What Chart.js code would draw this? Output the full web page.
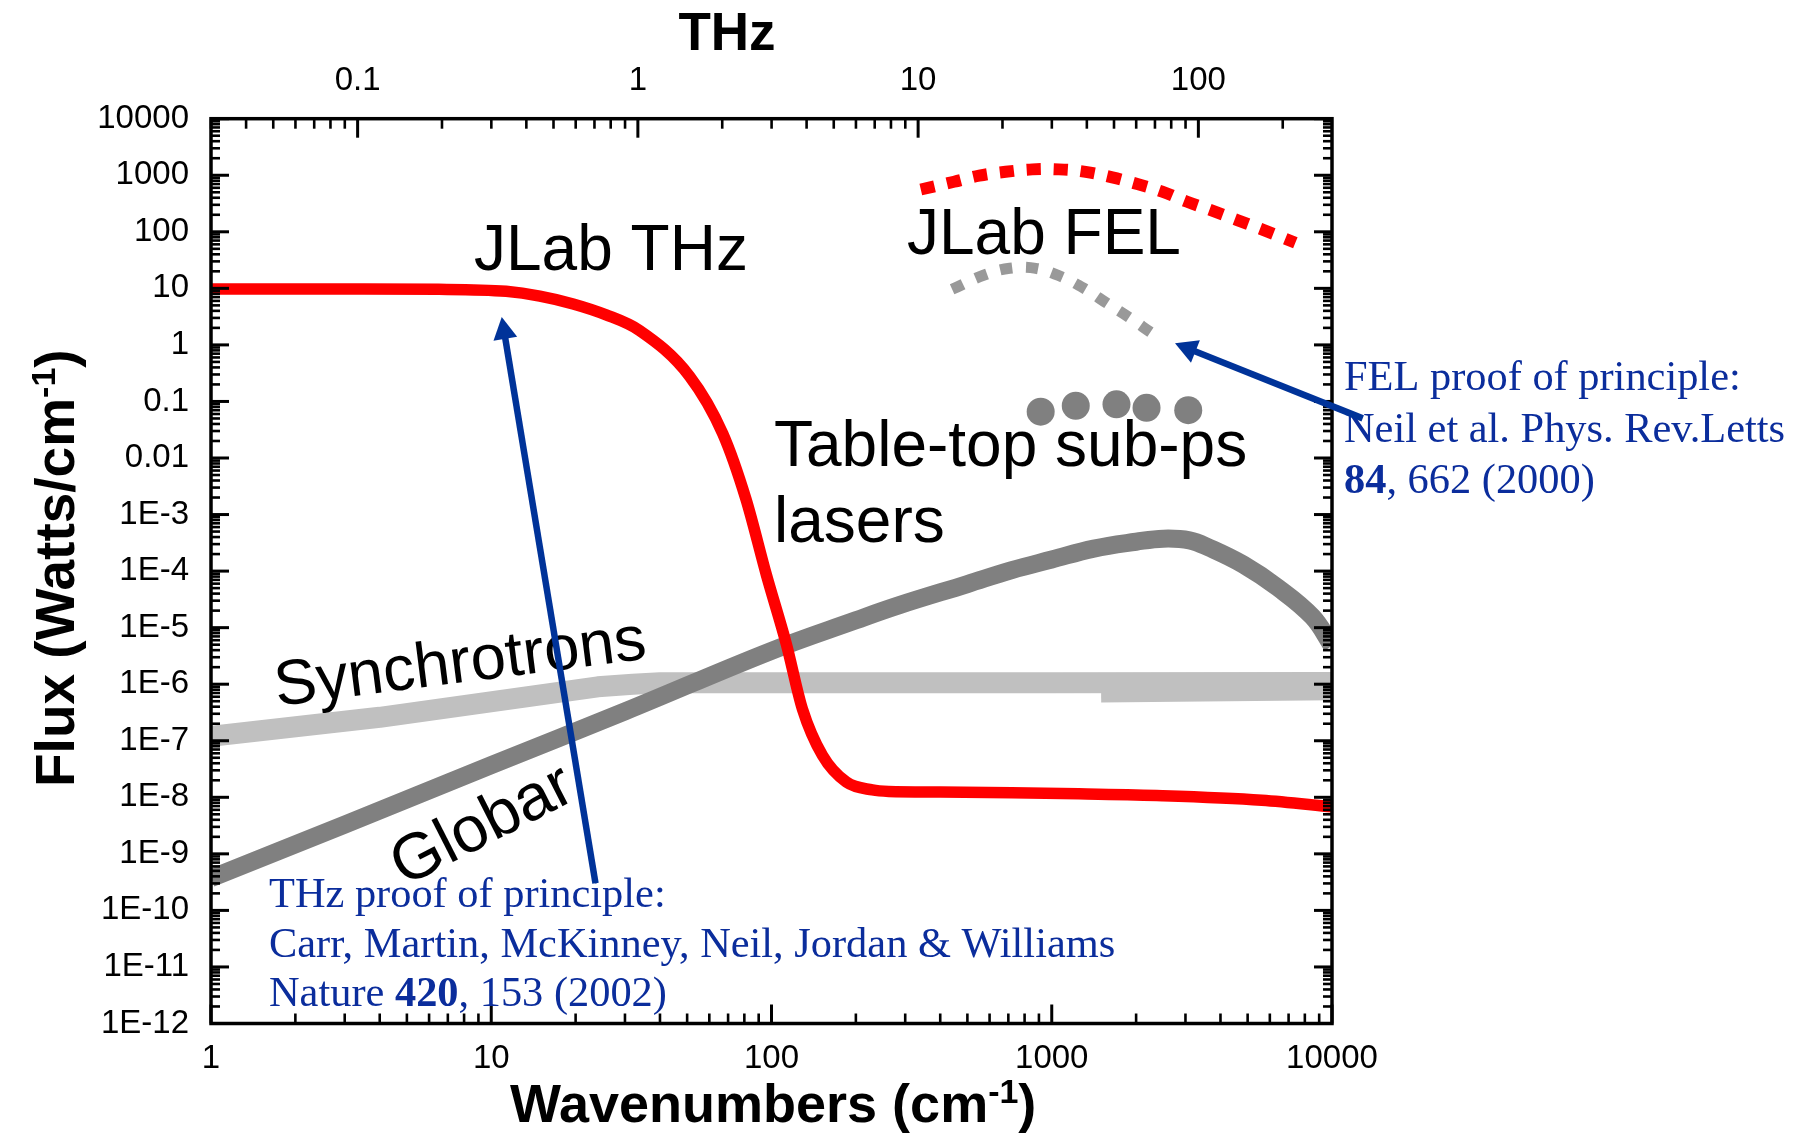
<!DOCTYPE html>
<html><head><meta charset="utf-8">
<script src="https://cdn.jsdelivr.net/npm/chart.js@4.4.0/dist/chart.umd.min.js"></script>
<style>html,body{margin:0;padding:0;background:#fff;}canvas{display:block;}</style>
</head><body>
<canvas id="c" width="1807" height="1137"></canvas>
<script>
// ---------------- data ----------------
const thzWn   = [1, 3, 6.5, 11.3, 14.9, 19.6, 25.7, 33.8, 51, 67, 81, 96, 113, 129, 152, 185, 229, 262, 400, 721, 1250, 2480, 5620, 10000];
const thzFlux = [9.7, 9.7, 9.6, 8.85, 7.3, 5.3, 3.4, 1.8, 0.28, 0.027, 1.9e-3, 8.4e-5, 5.1e-6, 3.6e-7, 5.5e-8, 1.86e-8, 1.35e-8, 1.27e-8, 1.24e-8, 1.2e-8, 1.15e-8, 1.07e-8, 8.9e-9, 6.8e-9];

const globarWn   = [1, 3, 10, 30, 100, 200, 286, 500, 720, 1000, 1413, 2000, 2500, 3100, 3640, 4830, 6410, 8510, 10000];
const globarFlux = [3.7e-10, 3.3e-9, 3.7e-8, 3.3e-7, 3.9e-6, 1.35e-5, 2.5e-5, 5.9e-5, 1.04e-4, 1.6e-4, 2.5e-4, 3.3e-4, 3.75e-4, 3.5e-4, 2.6e-4, 1.3e-4, 5.1e-5, 1.56e-5, 4.8e-6];

const synchWn   = [1, 4, 24, 32, 40, 100, 1000, 10000];
const synchFlux = [1.2e-7, 2.6e-7, 9.0e-7, 1.0e-6, 1.06e-6, 1.06e-6, 1.06e-6, 1.07e-6];
const synchStepWn   = [1500, 10000];
const synchStepFlux = [7.3e-7, 8.0e-7];

const felWn   = [341, 448, 551, 685, 853, 1062, 1321, 1645, 2020, 2478, 3043, 3738, 4591, 5710, 7400];
const felFlux = [560, 767, 985, 1150, 1270, 1270, 1150, 918, 698, 513, 340, 236, 161, 107, 64];

const felProofWn   = [441, 574, 708, 877, 1084, 1321, 1578, 1910, 2285, 2445];
const felProofFlux = [9.6, 17.2, 22.6, 22.6, 16, 9.6, 5.4, 2.95, 1.6, 1.3];

const laserWn   = [913, 1218, 1702, 2179, 3069];
const laserFlux = [0.066, 0.084, 0.089, 0.077, 0.070];

// tick labels
const xTickValues = [1, 10, 100, 1000, 10000];
const xTickLabels = ['1', '10', '100', '1000', '10000'];
const thzTickValues = [0.1, 1, 10, 100];
const thzTickLabels = ['0.1', '1', '10', '100'];
const yTickValues = [1e-12, 1e-11, 1e-10, 1e-9, 1e-8, 1e-7, 1e-6, 1e-5, 1e-4, 1e-3, 0.01, 0.1, 1, 10, 100, 1000, 10000];
const yTickLabels = ['1E-12', '1E-11', '1E-10', '1E-9', '1E-8', '1E-7', '1E-6', '1E-5', '1E-4', '1E-3', '0.01', '0.1', '1', '10', '100', '1000', '10000'];

const WN_PER_THZ = 33.356;
const X_MIN = 1, X_MAX = 10000, Y_MIN = 1e-12, Y_MAX = 1e4;

// ---------------- helpers ----------------
const pts = (xs, ys) => xs.map((x, i) => ({x: x, y: ys[i]}));
function decadeTicks(min, max) {
  const out = [];
  const e0 = Math.floor(Math.log10(min) + 1e-9), e1 = Math.ceil(Math.log10(max) - 1e-9);
  for (let e = e0; e <= e1; e++) {
    for (let m = 1; m <= 9; m++) {
      const v = m * Math.pow(10, e);
      if (v >= min * (1 - 1e-9) && v <= max * (1 + 1e-9)) out.push(v);
    }
  }
  return out;
}
function labelFor(value, values, labels) {
  for (let i = 0; i < values.length; i++) if (Math.abs(value / values[i] - 1) < 1e-6) return labels[i];
  return '';
}
const isMajor = v => Math.abs(Math.log10(v) - Math.round(Math.log10(v))) < 1e-6;

Chart.defaults.font.family = '"Liberation Sans", Arial, sans-serif';
Chart.defaults.color = '#000';

const SANS = '"Liberation Sans", Arial, sans-serif';
const SERIF = '"Liberation Serif", "Times New Roman", serif';
const BLUE_TEXT = '#0b2d9c';
const BLUE_ARROW = '#003399';

// annotation layout (canvas pixels)
const blackLabels = [
  {text: 'JLab THz', x: 474, y: 270, size: 64, angle: 0},
  {text: 'JLab FEL', x: 907, y: 254, size: 64, angle: 0},
  {text: 'Table-top sub-ps', x: 774, y: 466, size: 64, angle: 0},
  {text: 'lasers', x: 774, y: 542, size: 64, angle: 0},
  {text: 'Synchrotrons', x: 277, y: 706, size: 63.5, angle: -7.3},
  {text: 'Globar', x: 404, y: 887, size: 65, angle: -27}
];
const blueBlocks = [
  {x: 269, y0: 907, dy: 49.5, lines: [
    [{t: 'THz proof of principle:'}],
    [{t: 'Carr, Martin, McKinney, Neil, Jordan & Williams'}],
    [{t: 'Nature '}, {t: '420', b: true}, {t: ', 153 (2002)'}]
  ]},
  {x: 1344, y0: 390, dy: 51.5, lines: [
    [{t: 'FEL proof of principle:'}],
    [{t: 'Neil et al. Phys. Rev.Letts'}],
    [{t: '84', b: true}, {t: ', 662 (2000)'}]
  ]}
];
// arrows in data units: [tailWn, tailFlux, tipWn, tipFlux]
const arrows = [
  [23.55, 3.03e-10, 10.9, 3.11],
  [12870, 0.0502, 2753, 1.066]
];

function drawArrow(ctx, x1, y1, x2, y2, w, hl, hw, color) {
  const ang = Math.atan2(y2 - y1, x2 - x1);
  const bx = x2 - hl * Math.cos(ang), by = y2 - hl * Math.sin(ang);
  ctx.strokeStyle = color; ctx.fillStyle = color; ctx.lineWidth = w; ctx.lineCap = 'butt';
  ctx.beginPath(); ctx.moveTo(x1, y1); ctx.lineTo(bx + Math.cos(ang) * 2, by + Math.sin(ang) * 2); ctx.stroke();
  const px = -Math.sin(ang), py = Math.cos(ang);
  ctx.beginPath();
  ctx.moveTo(x2, y2);
  ctx.lineTo(bx + px * hw / 2, by + py * hw / 2);
  ctx.lineTo(bx - px * hw / 2, by - py * hw / 2);
  ctx.closePath(); ctx.fill();
}

const decorPlugin = {
  id: 'decor',
  afterDatasetsDraw(chart) {
    const {ctx, chartArea: a, scales} = chart;
    ctx.save();
    // ---- inward ticks ----
    ctx.strokeStyle = '#000';
    ctx.lineCap = 'butt';
    const hTicks = (scale, edge, dir) => {
      scale.ticks.forEach(t => {
        const p = scale.getPixelForValue(t.value);
        if (p < a.left - 1 || p > a.right + 1) return;
        const mj = isMajor(t.value);
        ctx.lineWidth = mj ? 3 : 2.6;
        ctx.beginPath(); ctx.moveTo(p, edge); ctx.lineTo(p, edge + dir * (mj ? 19 : 10)); ctx.stroke();
      });
    };
    hTicks(scales.x, a.bottom, -1);
    hTicks(scales.x2, a.top, 1);
    scales.y.ticks.forEach(t => {
      const p = scales.y.getPixelForValue(t.value);
      if (p < a.top - 1 || p > a.bottom + 1) return;
      const mj = isMajor(t.value);
      ctx.lineWidth = mj ? 3 : 2.6;
      const len = mj ? 18 : 9;
      ctx.beginPath(); ctx.moveTo(a.left, p); ctx.lineTo(a.left + len, p); ctx.stroke();
      ctx.beginPath(); ctx.moveTo(a.right, p); ctx.lineTo(a.right - len, p); ctx.stroke();
    });
    // ---- frame ----
    ctx.lineWidth = 3.5;
    ctx.strokeRect(a.left, a.top, a.right - a.left, a.bottom - a.top);

    // ---- axis titles ----
    ctx.fillStyle = '#000';
    ctx.textBaseline = 'alphabetic';
    ctx.textAlign = 'center';
    ctx.font = 'bold 53px ' + SANS;
    ctx.fillText('THz', 727, 50);
    ctx.textAlign = 'left';
    // x title
    let cx = 510;
    ctx.font = 'bold 54px ' + SANS;
    ctx.fillText('Wavenumbers (cm', cx, 1122); cx += ctx.measureText('Wavenumbers (cm').width;
    ctx.font = 'bold 34px ' + SANS;
    ctx.fillText('-1', cx, 1103); cx += ctx.measureText('-1').width;
    ctx.font = 'bold 54px ' + SANS;
    ctx.fillText(')', cx, 1122);
    // y title (rotated)
    ctx.save();
    ctx.translate(74, 787);
    ctx.rotate(-Math.PI / 2);
    let cy = 0;
    ctx.font = 'bold 55px ' + SANS;
    ctx.fillText('Flux (Watts/cm', cy, 0); cy += ctx.measureText('Flux (Watts/cm').width;
    ctx.font = 'bold 34px ' + SANS;
    ctx.fillText('-1', cy, -19); cy += ctx.measureText('-1').width;
    ctx.font = 'bold 55px ' + SANS;
    ctx.fillText(')', cy, 0);
    ctx.restore();

    // ---- black labels ----
    blackLabels.forEach(l => {
      ctx.save();
      ctx.translate(l.x, l.y);
      ctx.rotate(l.angle * Math.PI / 180);
      ctx.font = l.size + 'px ' + SANS;
      ctx.fillStyle = '#000';
      ctx.fillText(l.text, 0, 0);
      ctx.restore();
    });
    // ---- blue reference text ----
    ctx.fillStyle = BLUE_TEXT;
    blueBlocks.forEach(b => {
      b.lines.forEach((parts, i) => {
        let x = b.x;
        const y = b.y0 + i * b.dy;
        parts.forEach(p => {
          ctx.font = (p.b ? 'bold ' : '') + '42.4px ' + SERIF;
          ctx.fillText(p.t, x, y);
          x += ctx.measureText(p.t).width;
        });
      });
    });
    // ---- arrows ----
    arrows.forEach(ar => {
      const x1 = scales.x.getPixelForValue(ar[0]), y1 = scales.y.getPixelForValue(ar[1]);
      const x2 = scales.x.getPixelForValue(ar[2]), y2 = scales.y.getPixelForValue(ar[3]);
      drawArrow(ctx, x1, y1, x2, y2, 6.5, 22, 24, BLUE_ARROW);
    });
    ctx.restore();
  }
};

const tickFont = {size: 33, family: SANS};

new Chart(document.getElementById('c'), {
  type: 'line',
  data: {
    datasets: [
      {label: 'JLab THz', data: pts(thzWn, thzFlux), borderColor: '#ff0000', borderWidth: 11.5,
       cubicInterpolationMode: 'monotone', pointRadius: 0, order: 1},
      {label: 'Globar', data: pts(globarWn, globarFlux), borderColor: '#808080', borderWidth: 18,
       tension: 0.4, pointRadius: 0, order: 2},
      {label: 'Synchrotrons', data: pts(synchWn, synchFlux), borderColor: '#c0c0c0', borderWidth: 21,
       tension: 0, borderJoinStyle: 'round', pointRadius: 0, order: 3},
      {label: 'Synchrotrons (upper range)', data: pts(synchStepWn, synchStepFlux), borderColor: '#c0c0c0', borderWidth: 21,
       tension: 0, pointRadius: 0, order: 4},
      {label: 'JLab FEL', data: pts(felWn, felFlux), borderColor: '#ff0000', borderWidth: 12,
       borderDash: [14, 13], tension: 0.4, pointRadius: 0, order: 5},
      {label: 'FEL proof of principle', data: pts(felProofWn, felProofFlux), borderColor: '#999999', borderWidth: 11,
       borderDash: [12, 14], tension: 0.4, pointRadius: 0, order: 6},
      {label: 'Table-top sub-ps lasers', data: pts(laserWn, laserFlux), showLine: false,
       pointRadius: 14, pointStyle: 'circle', pointBackgroundColor: '#808080', pointBorderWidth: 0,
       borderColor: '#808080', order: 7}
    ]
  },
  options: {
    responsive: false,
    animation: false,
    devicePixelRatio: 1,
    layout: {padding: {left: 0, right: 475, top: 0, bottom: 0}},
    plugins: {legend: {display: false}, tooltip: {enabled: false}},
    scales: {
      x: {
        type: 'logarithmic', position: 'bottom', min: X_MIN, max: X_MAX,
        grid: {display: false, drawTicks: false}, border: {display: false},
        afterBuildTicks: s => { s.ticks = decadeTicks(X_MIN, X_MAX).map(v => ({value: v})); },
        afterFit: s => { s.height = 113.5; },
        ticks: {autoSkip: false, maxRotation: 0, minRotation: 0, padding: 16, color: '#000', font: tickFont,
          callback: v => labelFor(v, xTickValues, xTickLabels)}
      },
      x2: {
        type: 'logarithmic', position: 'top', axis: 'x',
        min: X_MIN / WN_PER_THZ, max: X_MAX / WN_PER_THZ,
        grid: {display: false, drawTicks: false}, border: {display: false},
        afterBuildTicks: s => { s.ticks = decadeTicks(X_MIN / WN_PER_THZ, X_MAX / WN_PER_THZ).map(v => ({value: v})); },
        afterFit: s => { s.height = 118.7; },
        ticks: {autoSkip: false, maxRotation: 0, minRotation: 0, padding: 18, color: '#000', font: tickFont,
          callback: v => labelFor(v, thzTickValues, thzTickLabels)}
      },
      y: {
        type: 'logarithmic', position: 'left', min: Y_MIN, max: Y_MAX,
        grid: {display: false, drawTicks: false}, border: {display: false},
        afterBuildTicks: s => { s.ticks = decadeTicks(Y_MIN, Y_MAX).map(v => ({value: v})); },
        afterFit: s => { s.width = 211; },
        ticks: {autoSkip: false, padding: 22, color: '#000', font: tickFont,
          callback: v => labelFor(v, yTickValues, yTickLabels)}
      }
    }
  },
  plugins: [decorPlugin]
});
</script>
</body></html>
